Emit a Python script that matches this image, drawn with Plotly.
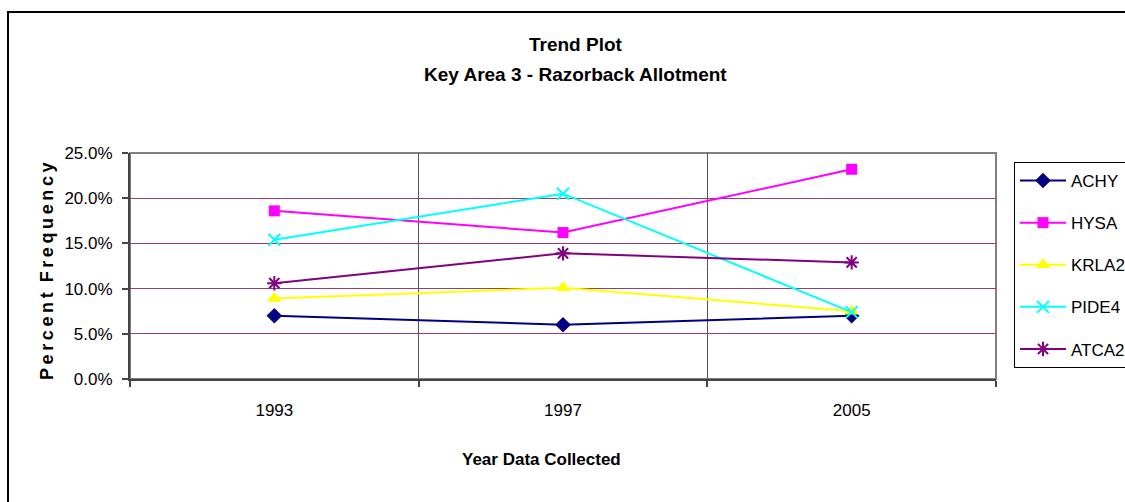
import plotly.graph_objects as go

years = ["1993", "1997", "2005"]
achy = [7.0, 6.0, 7.0]
hysa = [18.6, 16.2, 23.2]
krla2 = [8.9, 10.1, 7.5]
pide4 = [15.4, 20.5, 7.4]
atca2 = [10.6, 13.9, 12.9]

y_ticks = [0, 5, 10, 15, 20, 25]

FONT = "Liberation Sans, Arial, sans-serif"

series = [
    ("ACHY", achy, "#000080", "diamond", 12, 0),
    ("HYSA", hysa, "#FF00FF", "square", 11, 0),
    ("KRLA2", krla2, "#FFFF00", "triangle-up", 13, 0),
    ("PIDE4", pide4, "#00FFFF", "x-thin-open", 12, 2),
    ("ATCA2", atca2, "#800080", "asterisk-open", 12, 2),
]

fig = go.Figure()
for name, vals, color, symbol, size, mlw in series:
    marker = dict(symbol=symbol, size=size, color=color)
    if mlw:
        marker["line"] = dict(color=color, width=mlw)
    fig.add_trace(go.Scatter(
        x=years, y=vals, name=name, mode="lines+markers",
        line=dict(color=color, width=2), marker=marker,
        legendgroup=name,
    ))

W, H = 1125, 502
L, R, T, B = 130, 129, 153, 123
pw, ph = W - L - R, H - T - B


def px_x(px):
    return (px - L) / pw


def px_y(py):
    return (H - B - py) / ph


TS = "\u2009"
ytitle = TS.join("Percent") + "  " + TS.join("Frequency")

fig.update_layout(
    width=W, height=H,
    margin=dict(l=L, r=R, t=T, b=B, pad=0, autoexpand=False),
    paper_bgcolor="white", plot_bgcolor="white",
    font=dict(family=FONT, size=16, color="black"),
    showlegend=True,
    legend=dict(
        x=px_x(1014), y=px_y(162), xanchor="left", yanchor="top",
        bordercolor="black", borderwidth=1, bgcolor="white",
        font=dict(family=FONT, size=17, color="black"),
        tracegroupgap=17, itemwidth=46,
    ),
    xaxis=dict(
        type="category", tickson="boundaries",
        showgrid=True, gridcolor="#555555", gridwidth=1,
        showline=True, linecolor="#444444", linewidth=2,
        ticks="outside", ticklen=6, tickcolor="#444444", tickwidth=2,
        ticklabelstandoff=15,
        tickfont=dict(family=FONT, size=17),
        range=[-0.5, 2.5],
    ),
    yaxis=dict(
        range=[0, 25], tickvals=y_ticks,
        ticktext=[f"{v:.1f}%" for v in y_ticks],
        showgrid=True, gridcolor="#9B3C6E", gridwidth=1,
        zeroline=False,
        showline=True, linecolor="#444444", linewidth=2,
        ticks="outside", ticklen=6, tickcolor="#444444", tickwidth=2,
        ticklabelstandoff=6,
        tickfont=dict(family=FONT, size=17),
    ),
    shapes=[
        # gray plot-area border
        dict(type="rect", xref="paper", yref="paper", x0=0, x1=1, y0=0, y1=1,
             line=dict(color="#808080", width=2), layer="below"),
        # outer chart frame
        dict(type="rect", xref="paper", yref="paper",
             x0=px_x(8), x1=px_x(1140), y0=px_y(520), y1=px_y(12),
             line=dict(color="black", width=2), layer="below"),
    ],
    annotations=[
        dict(text="<b>Trend Plot</b>", xref="paper", yref="paper",
             x=px_x(576), y=px_y(44), showarrow=False,
             xanchor="center", yanchor="middle",
             font=dict(family=FONT, size=19)),
        dict(text="<b>Key Area 3 - Razorback Allotment</b>", xref="paper", yref="paper",
             x=px_x(575), y=px_y(75), showarrow=False,
             xanchor="center", yanchor="middle",
             font=dict(family=FONT, size=19)),
        dict(text="<b>Year Data Collected</b>", xref="paper", yref="paper",
             x=px_x(541), y=px_y(459), showarrow=False,
             xanchor="center", yanchor="middle",
             font=dict(family=FONT, size=17)),
        dict(text=f"<b>{ytitle}</b>",
             xref="paper", yref="paper",
             x=px_x(47), y=px_y(271), showarrow=False, textangle=-90,
             xanchor="center", yanchor="middle",
             font=dict(family=FONT, size=18)),
    ],
)

fig.write_html("out.html")
